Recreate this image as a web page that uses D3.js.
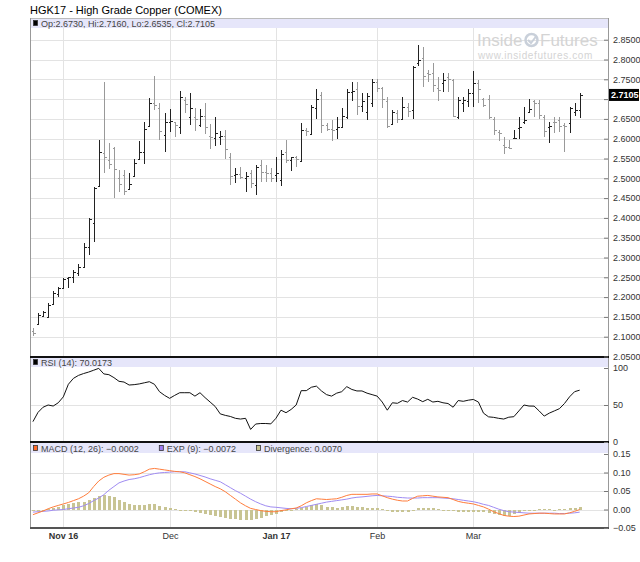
<!DOCTYPE html>
<html>
<head>
<meta charset="utf-8">
<script src="https://cdn.jsdelivr.net/npm/d3@7"></script>
<style>
  body { margin: 0; background: #fff; }
  text { font-family: "Liberation Sans", Arial, sans-serif; }
</style>
</head>
<body>
<svg id="chart" width="640" height="562"></svg>
<script>
// daily bars, Oct 24 2016 .. Mar 30 2017 (trading-day index)
const opens = [2.115, 2.132, 2.152, 2.151, 2.182, 2.209, 2.222, 2.247, 2.252, 2.260,
  2.277, 2.327, 2.386, 2.481, 2.563, 2.546, 2.576, 2.502, 2.509, 2.472,
  2.506, 2.548, 2.566, 2.632, 2.689, 2.678, 2.609, 2.643, 2.641, 2.630,
  2.698, 2.654, 2.654, 2.635, 2.657, 2.607, 2.603, 2.605, 2.607, 2.553,
  2.508, 2.511, 2.502, 2.513, 2.482, 2.534, 2.515, 2.513, 2.508, 2.496,
  2.567, 2.546, 2.553, 2.544, 2.622, 2.612, 2.677, 2.710, 2.635, 2.625,
  2.624, 2.629, 2.654, 2.719, 2.725, 2.683, 2.668, 2.689, 2.742, 2.727,
  2.696, 2.637, 2.666, 2.651, 2.681, 2.673, 2.790, 2.803, 2.765, 2.765,
  2.727, 2.740, 2.757, 2.748, 2.656, 2.689, 2.694, 2.715, 2.740, 2.700,
  2.700, 2.651, 2.618, 2.584, 2.580, 2.601, 2.626, 2.643, 2.668, 2.694,
  2.691, 2.656, 2.630, 2.643, 2.647, 2.635, 2.639, 2.668, 2.6730];
const highs = [2.123, 2.161, 2.166, 2.184, 2.215, 2.226, 2.247, 2.252, 2.268, 2.284,
  2.336, 2.401, 2.479, 2.597, 2.744, 2.590, 2.578, 2.521, 2.521, 2.514,
  2.550, 2.594, 2.643, 2.702, 2.758, 2.689, 2.664, 2.674, 2.643, 2.721,
  2.706, 2.715, 2.677, 2.674, 2.691, 2.637, 2.654, 2.620, 2.622, 2.563,
  2.525, 2.528, 2.517, 2.521, 2.534, 2.546, 2.534, 2.525, 2.555, 2.571,
  2.597, 2.555, 2.556, 2.639, 2.626, 2.685, 2.725, 2.719, 2.639, 2.646,
  2.654, 2.677, 2.725, 2.742, 2.744, 2.715, 2.715, 2.750, 2.750, 2.731,
  2.706, 2.673, 2.673, 2.706, 2.689, 2.784, 2.837, 2.832, 2.774, 2.790,
  2.757, 2.767, 2.765, 2.752, 2.705, 2.706, 2.725, 2.772, 2.747, 2.702,
  2.710, 2.656, 2.622, 2.605, 2.597, 2.622, 2.656, 2.679, 2.699, 2.698,
  2.698, 2.660, 2.643, 2.656, 2.654, 2.639, 2.681, 2.689, 2.7160];
const lows = [2.103, 2.130, 2.149, 2.149, 2.180, 2.199, 2.220, 2.223, 2.236, 2.253,
  2.275, 2.306, 2.340, 2.479, 2.514, 2.523, 2.449, 2.466, 2.458, 2.470,
  2.504, 2.546, 2.536, 2.630, 2.672, 2.597, 2.566, 2.618, 2.605, 2.612,
  2.664, 2.635, 2.619, 2.630, 2.612, 2.575, 2.582, 2.583, 2.550, 2.483,
  2.487, 2.497, 2.466, 2.475, 2.458, 2.491, 2.491, 2.491, 2.491, 2.481,
  2.538, 2.519, 2.528, 2.542, 2.607, 2.609, 2.651, 2.614, 2.620, 2.593,
  2.598, 2.626, 2.649, 2.695, 2.660, 2.668, 2.646, 2.679, 2.719, 2.677,
  2.626, 2.635, 2.639, 2.647, 2.654, 2.649, 2.784, 2.731, 2.744, 2.719,
  2.696, 2.719, 2.719, 2.654, 2.651, 2.668, 2.681, 2.681, 2.690, 2.679,
  2.651, 2.609, 2.593, 2.561, 2.573, 2.598, 2.598, 2.637, 2.666, 2.656,
  2.651, 2.605, 2.588, 2.615, 2.618, 2.567, 2.615, 2.657, 2.6535];
const closes = [2.110, 2.156, 2.163, 2.180, 2.211, 2.222, 2.245, 2.250, 2.264, 2.277,
  2.327, 2.396, 2.475, 2.567, 2.555, 2.535, 2.523, 2.486, 2.468, 2.486,
  2.538, 2.566, 2.624, 2.689, 2.685, 2.619, 2.641, 2.645, 2.634, 2.706,
  2.688, 2.677, 2.651, 2.657, 2.630, 2.605, 2.615, 2.607, 2.573, 2.507,
  2.511, 2.504, 2.506, 2.487, 2.528, 2.517, 2.513, 2.500, 2.514, 2.561,
  2.546, 2.553, 2.548, 2.622, 2.619, 2.681, 2.699, 2.635, 2.625, 2.622,
  2.630, 2.658, 2.719, 2.721, 2.683, 2.696, 2.708, 2.742, 2.727, 2.699,
  2.632, 2.668, 2.649, 2.681, 2.671, 2.782, 2.799, 2.758, 2.763, 2.736,
  2.723, 2.748, 2.750, 2.657, 2.698, 2.698, 2.715, 2.740, 2.725, 2.685,
  2.656, 2.622, 2.615, 2.580, 2.576, 2.603, 2.629, 2.647, 2.674, 2.691,
  2.660, 2.620, 2.632, 2.641, 2.632, 2.632, 2.677, 2.673, 2.7105];

const rsi = [27.5, 40, 47, 50, 48.6, 53, 61, 78, 86, 90,
  92.5, 94.5, 97, 99.5, 92, 91, 87, 82, 81, 77,
  77.5, 78.5, 80, 81.5, 78, 68, 63, 59, 63, 66.6,
  66.6, 66.6, 62, 66.6, 60, 54, 48, 38, 36, 34.5,
  32, 31, 32, 17, 24.3, 25, 25, 24.5, 32, 43,
  39.6, 44, 50, 69.4, 69.4, 74, 75.5, 69, 64, 62,
  66, 68, 74.8, 71, 69, 69, 66, 64, 62, 54,
  43, 53, 52.3, 56, 54, 60.4, 58, 54.5, 57.7, 54,
  55, 53, 52, 47, 56, 55, 56.5, 57.5, 54, 39,
  34, 33.3, 32, 31, 33.5, 34.2, 42, 50, 48.6, 48.5,
  42, 35, 39, 42, 45, 52, 61, 68, 70.0173];

const macd = [-0.014, -0.009, -0.004, 0.002, 0.007, 0.011, 0.015, 0.019, 0.024, 0.029,
  0.036, 0.045, 0.062, 0.077, 0.087, 0.093, 0.097, 0.097, 0.095, 0.093,
  0.094, 0.096, 0.102, 0.109, 0.111, 0.109, 0.107, 0.105, 0.103, 0.102,
  0.099, 0.094, 0.089, 0.083, 0.076, 0.069, 0.062, 0.056, 0.048, 0.038,
  0.028, 0.018, 0.010, 0.003, 0.000, -0.003, -0.005, -0.006, -0.006, -0.003,
  -0.001, 0.002, 0.004, 0.010, 0.018, 0.024, 0.029, 0.028, 0.027, 0.028,
  0.029, 0.033, 0.038, 0.041, 0.041, 0.041, 0.041, 0.042, 0.042, 0.037,
  0.032, 0.028, 0.025, 0.023, 0.023, 0.030, 0.036, 0.037, 0.038, 0.036,
  0.034, 0.033, 0.032, 0.027, 0.022, 0.019, 0.017, 0.015, 0.011, 0.007,
  0.001, -0.006, -0.011, -0.016, -0.018, -0.019, -0.018, -0.015, -0.012, -0.011,
  -0.010, -0.010, -0.011, -0.012, -0.012, -0.012, -0.009, -0.005, -0.0002];
const expSignal = [-0.007, -0.006, -0.005, -0.004, -0.002, -0.001, 0.000, 0.002, 0.004, 0.006,
  0.010, 0.016, 0.024, 0.031, 0.040, 0.052, 0.062, 0.072, 0.077, 0.081,
  0.083, 0.086, 0.090, 0.094, 0.097, 0.099, 0.100, 0.101, 0.102, 0.102,
  0.102, 0.099, 0.096, 0.092, 0.088, 0.083, 0.079, 0.075, 0.067, 0.059,
  0.051, 0.044, 0.036, 0.028, 0.021, 0.015, 0.010, 0.007, 0.006, 0.0045,
  0.003, 0.002, 0.003, 0.005, 0.008, 0.011, 0.014, 0.017, 0.020, 0.022,
  0.024, 0.026, 0.028, 0.031, 0.033, 0.034, 0.0355, 0.037, 0.038, 0.037,
  0.036, 0.035, 0.033, 0.032, 0.031, 0.031, 0.031, 0.032, 0.032, 0.032,
  0.032, 0.031, 0.030, 0.029, 0.027, 0.025, 0.023, 0.021, 0.018, 0.014,
  0.011, 0.006, 0.001, -0.003, -0.006, -0.007, -0.008, -0.009, -0.010, -0.010,
  -0.010, -0.010, -0.010, -0.010, -0.011, -0.011, -0.010, -0.009, -0.0072];
const divergence = [-0.005, -0.004, -0.002, 0.002, 0.005, 0.008, 0.011, 0.014, 0.017, 0.019,
  0.021, 0.025, 0.030, 0.036, 0.039, 0.037, 0.033, 0.026, 0.020, 0.015,
  0.012, 0.011, 0.012, 0.016, 0.015, 0.010, 0.007, 0.004, 0.001, 0.000,
  -0.002, -0.005, -0.008, -0.010, -0.012, -0.014, -0.017, -0.020, -0.022, -0.025,
  -0.027, -0.029, -0.029, -0.028, -0.025, -0.022, -0.018, -0.014, -0.011, -0.007,
  -0.004, -0.001, 0.001, 0.004, 0.008, 0.012, 0.015, 0.013, 0.008, 0.006,
  0.005, 0.006, 0.010, 0.010, 0.008, 0.007, 0.004, 0.004, 0.004, 0.001,
  -0.004, -0.007, -0.008, -0.008, -0.006, -0.002, 0.004, 0.005, 0.005, 0.004,
  0.002, 0.000, -0.002, -0.004, -0.006, -0.007, -0.007, -0.007, -0.007, -0.008,
  -0.010, -0.013, -0.016, -0.018, -0.017, -0.013, -0.009, -0.005, -0.003, -0.001,
  0.001, 0.001, 0.001, 0.000, 0.001, 0.002, 0.003, 0.004, 0.007];

// first trading day of each month
const monthIdx = [6, 27, 48, 68, 87];
const monthLabels = ["Nov 16", "Dec", "Jan 17", "Feb", "Mar"];

const priceTicks = [2.05, 2.10, 2.15, 2.20, 2.25, 2.30, 2.35, 2.40, 2.45, 2.50, 2.55, 2.60, 2.65, 2.70, 2.75, 2.80, 2.85];
const rsiTicks = [0, 50, 100];
const macdTicks = [-0.05, 0.00, 0.05, 0.10, 0.15];

const L = 30, R = 608;
const gridColour = "#e3e3e3";
const legendFill = "#e6e6fa";

const svg = d3.select("#chart");

const x = d3.scaleLinear().domain([-0.58, 113.6]).range([L, R]);
const yPrice = d3.scaleLinear().domain([2.05, 2.85]).range([356.5, 39.7]);
const yRsi = d3.scaleLinear().domain([0, 100]).range([442, 368]);
const yMacd = d3.scaleLinear().domain([-0.05, 0.15]).range([528, 454]);

const px = i => Math.round(x(i)) + 0.5;
const idx = d3.range(closes.length);

// title
svg.append("text")
  .attr("x", 30).attr("y", 14)
  .attr("font-size", "11px").attr("fill", "#000")
  .text("HGK17 - High Grade Copper (COMEX)");

// grid
const grid = svg.append("g").attr("stroke", gridColour).attr("shape-rendering", "crispEdges");
grid.selectAll(".v").data(monthIdx).enter().append("line")
  .attr("x1", px).attr("x2", px).attr("y1", 18).attr("y2", 528);
grid.selectAll(".hp").data(priceTicks.slice(1)).enter().append("line")
  .attr("x1", L).attr("x2", R)
  .attr("y1", d => Math.round(yPrice(d)) + 0.5).attr("y2", d => Math.round(yPrice(d)) + 0.5);
grid.append("line").attr("x1", L).attr("x2", R)
  .attr("y1", Math.round(yRsi(50)) + 0.5).attr("y2", Math.round(yRsi(50)) + 0.5);
grid.selectAll(".hm").data([0, 0.05, 0.10]).enter().append("line")
  .attr("x1", L).attr("x2", R)
  .attr("y1", d => Math.round(yMacd(d)) + 0.5).attr("y2", d => Math.round(yMacd(d)) + 0.5);

// watermark
const wm = svg.append("g").attr("fill", "#d4d4d4");
wm.append("text").attr("x", 477).attr("y", 46).attr("font-size", "17px").text("Inside");
wm.append("circle").attr("cx", 531.5).attr("cy", 40).attr("r", 6)
  .attr("fill", "none").attr("stroke", "#c9d0da").attr("stroke-width", 2.5);
wm.append("path").attr("d", "M528,40 L531,43 L536,36.5")
  .attr("fill", "none").attr("stroke", "#c9d0da").attr("stroke-width", 2);
wm.append("text").attr("x", 540).attr("y", 46).attr("font-size", "17px").text("Futures");
wm.append("text").attr("x", 478).attr("y", 59).attr("font-size", "10px")
  .attr("letter-spacing", "0.6").text("www.insidefutures.com");

// price bars
svg.append("g")
  .attr("fill", "none").attr("stroke-width", 1).attr("shape-rendering", "crispEdges")
  .selectAll("path").data(idx).enter().append("path")
  .attr("stroke", i => closes[i] >= opens[i] ? "#222" : "#999")
  .attr("d", i => {
    const xi = px(i);
    const yo = Math.round(yPrice(opens[i])) + 0.5;
    const yc = Math.round(yPrice(closes[i])) + 0.5;
    return `M${xi},${yPrice(highs[i])}V${yPrice(lows[i])}M${xi - 2},${yo}H${xi}M${xi},${yc}H${xi + 2}`;
  });

// RSI
svg.append("path")
  .datum(rsi)
  .attr("fill", "none").attr("stroke", "#111").attr("stroke-width", 1)
  .attr("d", d3.line().x((d, i) => x(i)).y(d => yRsi(d)));

// MACD histogram + lines
svg.append("g").attr("fill", "#c8c493").attr("shape-rendering", "crispEdges")
  .selectAll("rect").data(idx).enter().append("rect")
  .attr("x", i => Math.round(x(i)) - 1)
  .attr("width", 3)
  .attr("y", i => Math.min(yMacd(0), yMacd(divergence[i])))
  .attr("height", i => Math.max(1, Math.abs(yMacd(divergence[i]) - yMacd(0))));

svg.append("path").datum(expSignal)
  .attr("fill", "none").attr("stroke", "#a08cf2").attr("stroke-width", 1)
  .attr("d", d3.line().x((d, i) => x(i)).y(d => yMacd(d)));
svg.append("path").datum(macd)
  .attr("fill", "none").attr("stroke", "#ff7d3c").attr("stroke-width", 1)
  .attr("d", d3.line().x((d, i) => x(i)).y(d => yMacd(d)));

// legend bars
const legendBar = (y, items) => {
  svg.append("rect").attr("x", L).attr("y", y).attr("width", R - L).attr("height", 10)
    .attr("fill", legendFill);
  let cx = L + 3;
  items.forEach(it => {
    svg.append("rect").attr("x", cx + 0.5).attr("y", y + 2.5).attr("width", 4).attr("height", 5)
      .attr("fill", it.colour).attr("stroke", "#333").attr("stroke-width", 0.8);
    const t = svg.append("text").attr("x", cx + 8).attr("y", y + 8.5)
      .attr("font-size", "9px").attr("fill", "#444").text(it.label);
    cx += 8 + t.node().getComputedTextLength() + 20;
  });
};
legendBar(18, [{ colour: "#000", label: "Op:2.6730, Hi:2.7160, Lo:2.6535, Cl:2.7105" }]);
legendBar(357, [{ colour: "#000", label: "RSI (14): 70.0173" }]);
legendBar(443, [
  { colour: "#ff6a2a", label: "MACD (12, 26): \u22120.0002" },
  { colour: "#9f7cf5", label: "EXP (9): \u22120.0072" },
  { colour: "#c8c493", label: "Divergence: 0.0070" }
]);

// frame
const frame = svg.append("g").attr("shape-rendering", "crispEdges");
frame.append("line").attr("x1", L).attr("x2", R).attr("y1", 18).attr("y2", 18).attr("stroke", "#bbb");
frame.append("line").attr("x1", L + 0.5).attr("x2", L + 0.5).attr("y1", 18).attr("y2", 528).attr("stroke", "#999");
frame.append("line").attr("x1", R + 0.5).attr("x2", R + 0.5).attr("y1", 18).attr("y2", 528).attr("stroke", "#999");
frame.selectAll(".sep").data([356.5, 442]).enter().append("line")
  .attr("x1", L).attr("x2", R + 1).attr("y1", d => d).attr("y2", d => d)
  .attr("stroke", "#111").attr("stroke-width", 2);
frame.append("line").attr("x1", L).attr("x2", R + 1).attr("y1", 528).attr("y2", 528)
  .attr("stroke", "#555").attr("stroke-width", 2);

// right axes
const styleAxis = g => {
  g.select(".domain").remove();
  g.selectAll(".tick line").attr("stroke", "#777");
  g.selectAll(".tick text").attr("fill", "#333").attr("font-size", "9px")
    .style("font-family", '"Liberation Sans", Arial, sans-serif');
};
svg.append("g").attr("transform", `translate(${R},0)`)
  .call(d3.axisRight(yPrice).tickValues(priceTicks).tickFormat(d3.format(".4f")).tickSize(-4).tickPadding(5))
  .call(styleAxis)
  .call(g => g.selectAll(".tick").filter(d => Math.abs(d - 2.70) < 1e-6).select("text").remove());
svg.append("g").attr("transform", `translate(${R},0)`)
  .call(d3.axisRight(yRsi).tickValues(rsiTicks).tickFormat(d3.format("d")).tickSize(-4).tickPadding(5))
  .call(styleAxis);
svg.append("g").attr("transform", `translate(${R},0)`)
  .call(d3.axisRight(yMacd).tickValues(macdTicks).tickFormat(d3.format(".2f")).tickSize(-4).tickPadding(5))
  .call(styleAxis);

// last price marker
const lastY = yPrice(closes[closes.length - 1]);
svg.append("rect").attr("x", R + 1).attr("y", lastY - 6).attr("width", 30).attr("height", 12).attr("fill", "#000");
svg.append("text").attr("x", R + 3).attr("y", lastY + 3.5)
  .attr("font-size", "9px").attr("font-weight", "bold").attr("fill", "#fff")
  .text(d3.format(".4f")(closes[closes.length - 1]));

// month labels
svg.append("g").selectAll("text").data(monthIdx).enter().append("text")
  .attr("x", px).attr("y", 539)
  .attr("text-anchor", "middle").attr("font-size", "9px").attr("fill", "#333")
  .attr("font-weight", (d, i) => monthLabels[i].length > 3 ? "bold" : "normal")
  .text((d, i) => monthLabels[i]);
</script>
</body>
</html>
